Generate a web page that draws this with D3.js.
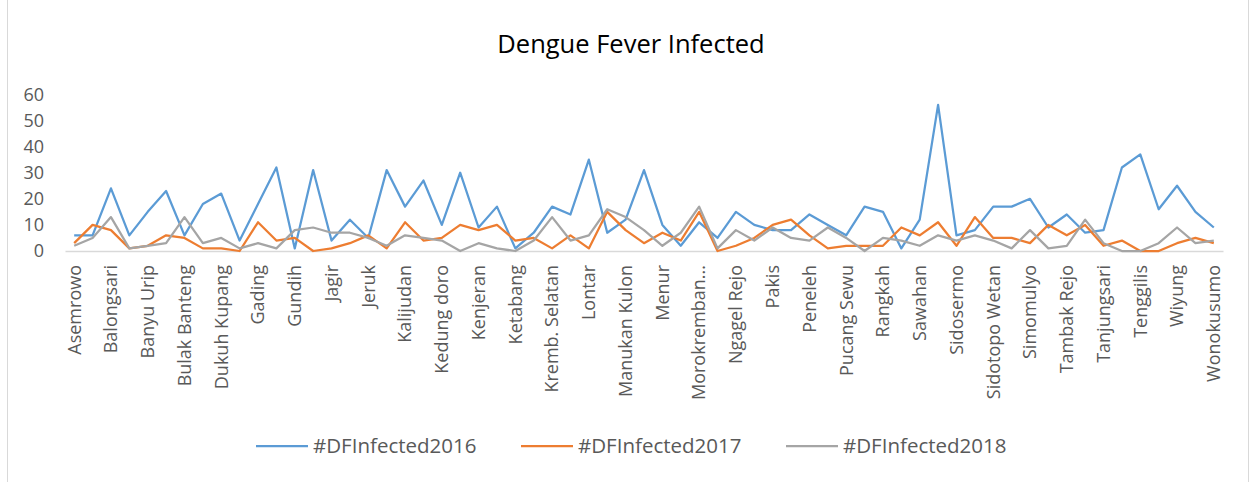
<!DOCTYPE html>
<html>
<head>
<meta charset="utf-8">
<script src="https://cdn.jsdelivr.net/npm/d3@7"></script>
<style>
  body { margin: 0; background: #fff; }
  svg { font-family: "Open Sans", "Noto Sans", sans-serif; }
</style>
</head>
<body>
<div class="chart"></div>
<script>
// size of the svg
var widthSVG = 1253;
var heightSVG = 482;
// longest label that fits below the axis (px)
var maxLabel = 142;

// health centres (x categories), only every other one gets a label
var categories = ["Asemrowo", "Balas Klumprik", "Balongsari", "Bangkingan", "Banyu Urip", "Benowo",
  "Bulak Banteng", "Dr. Soetomo", "Dukuh Kupang", "Dupak", "Gading", "Gayungan", "Gundih",
  "Gunung Anyar", "Jagir", "Jemursari", "Jeruk", "Kali Rungkut", "Kalijudan", "Kebonsari",
  "Kedung doro", "Kedurus", "Kenjeran", "Keputih", "Ketabang", "Klampis Ngasem", "Kremb. Selatan",
  "Kremb. Utara", "Lontar", "Made", "Manukan Kulon", "Medokan Ayu", "Menur", "Mojo",
  "Morokrembangan", "Mulyorejo", "Ngagel Rejo", "Pacar Keling", "Pakis", "Pegirian", "Peneleh",
  "Perak Timur", "Pucang Sewu", "Putat Jaya", "Rangkah", "Sawah Pulo", "Sawahan", "Sememi",
  "Sidosermo", "Sidotopo", "Sidotopo Wetan", "Simolawang", "Simomulyo", "Sono Kwijenan",
  "Tambak Rejo", "Tanah Kali Kedinding", "Tanjungsari", "Tembok Dukuh", "Tenggilis", "Tenggilis Mejoyo",
  "Wiyung", "Wonokromo", "Wonokusumo"];

var infected2016 = [6, 6, 24, 6, 15, 23, 6, 18, 22, 4, 18, 32, 1, 31, 4, 12, 5, 31, 17, 27, 10,
  30, 9, 17, 1, 7, 17, 14, 35, 7, 12, 31, 10, 2, 11, 5, 15, 10, 8, 8, 14, 10, 6, 17, 15, 1,
  12, 56, 6, 8, 17, 17, 20, 9, 14, 7, 8, 32, 37, 16, 25, 15, 9];
var infected2017 = [3, 10, 8, 1, 2, 6, 5, 1, 1, 0, 11, 4, 5, 0, 1, 3, 6, 1, 11, 4, 5,
  10, 8, 10, 4, 5, 1, 6, 1, 15, 8, 3, 7, 4, 15, 0, 2, 5, 10, 12, 6, 1, 2, 2, 2, 9,
  6, 11, 2, 13, 5, 5, 3, 10, 6, 10, 2, 4, 0, 0, 3, 5, 3];
var infected2018 = [2, 5, 13, 1, 2, 3, 13, 3, 5, 1, 3, 1, 8, 9, 7, 7, 5, 2, 6, 5, 4,
  0, 3, 1, 0, 4, 13, 4, 6, 16, 13, 8, 2, 7, 17, 1, 8, 4, 9, 5, 4, 9, 5, 0, 5, 4,
  2, 6, 4, 6, 4, 1, 8, 1, 2, 12, 3, 0, 0, 3, 9, 3, 4];

var seriesNames = ["#DFInfected2016", "#DFInfected2017", "#DFInfected2018"];
var yTicks = [0, 10, 20, 30, 40, 50, 60];
var cor = ["#5B9BD5", "#ED7D31", "#A5A5A5"];
var titulo = "Dengue Fever Infected";

var series = [infected2016, infected2017, infected2018];

var svg = d3.select(".chart")
  .append("svg")
  .attr("width", widthSVG)
  .attr("height", heightSVG);

// light frame of the chart area
svg.append("rect")
  .attr("x", 7.5)
  .attr("y", -2)
  .attr("width", 1241)
  .attr("height", heightSVG + 4)
  .attr("fill", "#fff")
  .attr("stroke", "#d9d9d9");

// scales
var xScale = d3.scaleBand()
  .domain(categories)
  .range([65, 1223]);
var yScale = d3.scaleLinear()
  .domain([0, 60])
  .range([251, 94.4]);

function xc(d, i) { return xScale(categories[i]) + xScale.bandwidth() / 2; }

// y axis, no line and no ticks
var y_axis = d3.axisLeft(yScale).tickValues(yTicks).tickSize(0).tickPadding(21);
svg.append("g")
  .attr("class", "coord y")
  .attr("transform", "translate(65,0)")
  .call(y_axis)
  .call(function(g) { g.select(".domain").remove(); })
  .selectAll("text")
  .attr("fill", "#595959")
  .style("font-size", "18px")
  .style("font-family", "'Open Sans', sans-serif");

// x axis, labels rotated, every other one shown
var x_axis = d3.axisBottom(xScale).tickSize(0).tickFormat(function(d, i) {
  return i % 2 == 0 ? d : "";
});
var gx = svg.append("g")
  .attr("class", "coord x")
  .attr("transform", "translate(0,251)")
  .call(x_axis);
gx.select(".domain").attr("stroke", "#d9d9d9").attr("stroke-width", 1.5);
gx.selectAll("text")
  .attr("transform", "rotate(-90)")
  .attr("text-anchor", "end")
  .attr("x", -14)
  .attr("y", 0)
  .attr("dy", "0.35em")
  .attr("fill", "#595959")
  .style("font-size", "18px")
  .style("font-family", "'Open Sans', sans-serif")
  .each(function() {
    // cut labels that are too long, like excel does
    var t = d3.select(this);
    var s = t.text();
    while (s.length > 3 && this.getComputedTextLength() > maxLabel) {
      s = s.slice(0, -1);
      t.text(s + "...");
    }
  });

// lines
var line = d3.line()
  .x(function(d, i) { return xc(d, i); })
  .y(function(d) { return yScale(d); });

svg.selectAll(".serie")
  .data(series)
  .enter()
  .append("path")
  .attr("class", "serie")
  .attr("d", line)
  .attr("fill", "none")
  .attr("stroke", function(d, i) { return cor[i]; })
  .attr("stroke-width", 2.25)
  .attr("stroke-linejoin", "round");

// title
svg.append("text")
  .attr("x", 631)
  .attr("y", 53)
  .attr("text-anchor", "middle")
  .attr("fill", "#000")
  .style("font-size", "25.5px")
  .text(titulo);

// legend
var legenda = svg.append("g")
  .attr("transform", "translate(256,446)")
  .selectAll(".legendas")
  .data(seriesNames)
  .enter()
  .append("g")
  .attr("class", "legendas")
  .attr("transform", function(d, i) { return "translate(" + (i * 265) + ",0)"; });

legenda.append("line")
  .attr("x1", 0)
  .attr("x2", 52)
  .attr("stroke", function(d, i) { return cor[i]; })
  .attr("stroke-width", 2.25);

legenda.append("text")
  .attr("x", 57)
  .attr("dy", "0.35em")
  .attr("fill", "#595959")
  .style("font-size", "20.5px")
  .text(function(d) { return d; });
</script>
</body>
</html>
